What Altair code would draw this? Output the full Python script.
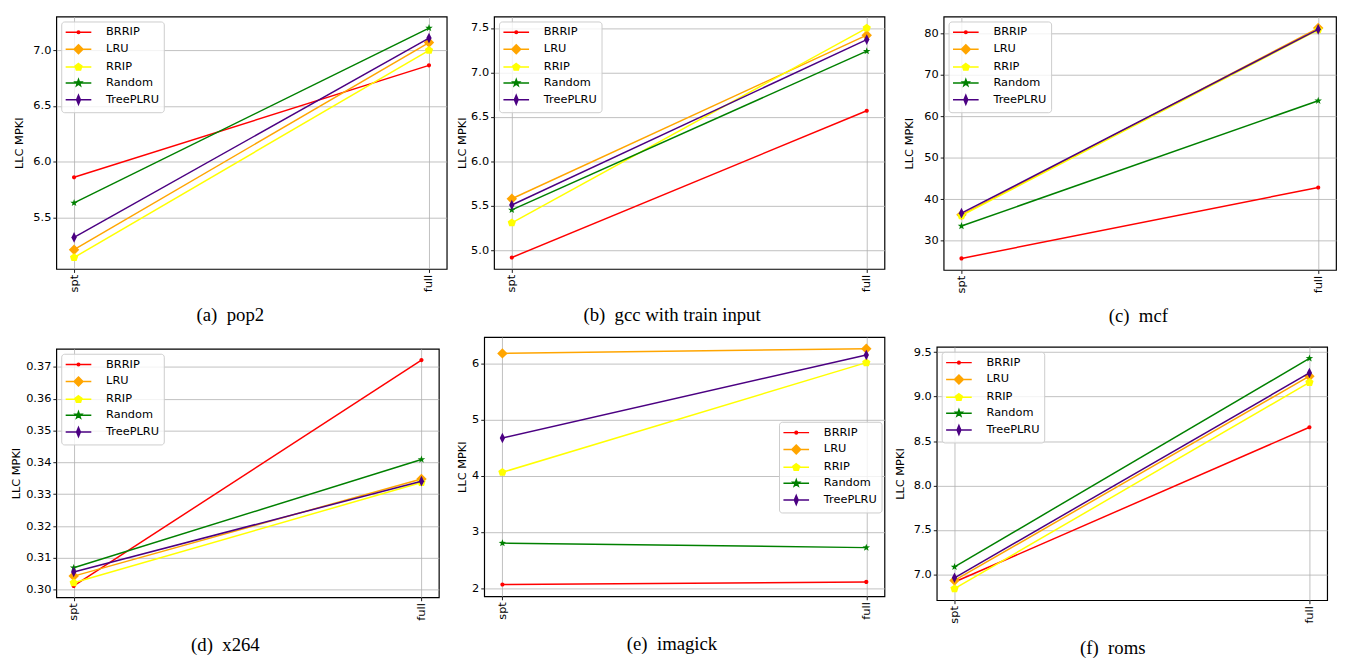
import math
import altair as alt
import pandas as pd

# ---------------- data ----------------
policies = ["BRRIP", "LRU", "RRIP", "Random", "TreePLRU"]
stages = ["spt", "full"]

pop2_spt = [5.86, 5.21, 5.14, 5.63, 5.32]
pop2_full = [6.865, 7.07, 7.00, 7.20, 7.11]
gcc_spt = [4.92, 5.58, 5.31, 5.455, 5.51]
gcc_full = [6.57, 7.42, 7.50, 7.24, 7.37]
mcf_spt = [25.7, 36.2, 36.0, 33.5, 36.6]
mcf_full = [42.8, 81.2, 80.8, 63.7, 80.9]
x264_spt = [0.3012, 0.3043, 0.3022, 0.3069, 0.3056]
x264_full = [0.3721, 0.3348, 0.3337, 0.3409, 0.3341]
imagick_spt = [2.064, 6.175, 4.06, 2.80, 4.67]
imagick_full = [2.11, 6.257, 6.01, 2.72, 6.146]
roms_spt = [6.915, 6.933, 6.84, 7.085, 6.963]
roms_full = [8.655, 9.23, 9.16, 9.43, 9.266]

captions = ["(a)\u2002pop2", "(b)\u2002gcc with train input", "(c)\u2002mcf",
            "(d)\u2002x264", "(e)\u2002imagick", "(f)\u2002roms"]
ticks_a = [5.5, 6.0, 6.5, 7.0]
ticks_b = [5.0, 5.5, 6.0, 6.5, 7.0, 7.5]
ticks_c = [30, 40, 50, 60, 70, 80]
ticks_d = [0.30, 0.31, 0.32, 0.33, 0.34, 0.35, 0.36, 0.37]
ticks_e = [2, 3, 4, 5, 6]
ticks_f = [7.0, 7.5, 8.0, 8.5, 9.0, 9.5]

# ---------------- style ----------------
colors = ["#ff0000", "#ffa500", "#ffff00", "#008000", "#4b0082"]


def fmtp(x, y):
    return f"{x:.3f},{y:.3f}"


def poly(pts):
    return "M" + "L".join(fmtp(x, y) for x, y in pts) + "Z"


def regular(n, r, start=-90.0):
    return [(r * math.cos(math.radians(start + 360.0 * i / n)),
             r * math.sin(math.radians(start + 360.0 * i / n))) for i in range(n)]


def star(r_out, r_in):
    pts = []
    for i in range(10):
        r = r_out if i % 2 == 0 else r_in
        a = math.radians(-90 + 36 * i)
        pts.append((r * math.cos(a), r * math.sin(a)))
    return pts


def dot(r):
    return f"M{-r:.3f},0A{r:.3f},{r:.3f},0,1,1,{r:.3f},0A{r:.3f},{r:.3f},0,1,1,{-r:.3f},0Z"


def marker_set(px):
    """marker outlines; px = pixels per path unit, sizes given in pixels."""
    def s(v):
        return v / px
    return [
        dot(s(2.1)),
        poly([(0, -s(5.3)), (s(5.3), 0), (0, s(5.3)), (-s(5.3), 0)]),
        poly(regular(5, s(4.4))),
        poly(star(s(4.0), s(4.0) * 0.4)),
        poly([(0, -s(5.4)), (s(2.7), 0), (0, s(5.4)), (-s(2.7), 0)]),
    ]


def legend_set(px):
    def s(v):
        return v / px
    base = [
        dot(s(1.3)),
        poly([(0, -s(4.5)), (s(4.5), 0), (0, s(4.5)), (-s(4.5), 0)]),
        poly(regular(5, s(3.6))),
        poly(star(s(3.4), s(3.4) * 0.4)),
        poly([(0, -s(4.6)), (s(1.9), 0), (0, s(4.6)), (-s(1.9), 0)]),
    ]
    return [p + f"M{-s(13):.3f},0L{s(13):.3f},0" for p in base]


SYM = 625          # plot markers: 1 unit = 12.5 px
LSYM = 144         # legend symbols: 1 unit = 6 px
marker_paths = marker_set(12.5)
legend_paths = legend_set(6.0)


def panel(spt, full, caption, ticks, fmt, title_pad, cap_x, cap_y,
          spacer, width, height, legend_pos=None):
    df = pd.DataFrame({
        "policy": policies + policies,
        "stage": ["spt"] * len(policies) + ["full"] * len(policies),
        "value": list(spt) + list(full),
    })
    vals = list(spt) + list(full)
    lo, hi = min(vals), max(vals)
    m = 0.05 * (hi - lo)

    x = alt.X("stage:N", sort=stages,
              scale=alt.Scale(type="point", domain=stages, padding=0.05),
              axis=alt.Axis(title=caption, labelAngle=-90, grid=True,
                            titleX=cap_x, titleY=cap_y, titleBaseline="middle",
                            titleFont="Liberation Serif", titleFontSize=19,
                            titleFontWeight="normal"))
    y = alt.Y("value:Q",
              scale=alt.Scale(domain=[lo - m, hi + m], nice=False, zero=False),
              axis=alt.Axis(title="LLC MPKI", values=ticks, format=fmt,
                            titlePadding=title_pad))

    leg_kw = dict(title=None, symbolSize=LSYM, symbolStrokeWidth=1.5,
                  symbolOffset=6.5, labelOffset=21,
                  labelFontSize=11.5, labelFont="DejaVu Sans",
                  labelColor="black", padding=4, rowPadding=3.1,
                  fillColor="rgba(255,255,255,0.8)", strokeColor="#cccccc",
                  cornerRadius=3, symbolOpacity=1)
    if legend_pos is None:
        leg = alt.Legend(orient="top-left", offset=5, **leg_kw)
    else:
        leg = alt.Legend(orient="none", legendX=legend_pos[0],
                         legendY=legend_pos[1], **leg_kw)

    base = alt.Chart(df)
    layers = []
    for i, p in enumerate(policies):
        sub = base.transform_filter(alt.datum.policy == p)
        layers.append(sub.mark_line(strokeWidth=1.5, color=colors[i]).encode(x=x, y=y))
        layers.append(sub.mark_point(filled=True, size=SYM, opacity=1, strokeWidth=0,
                                     shape=marker_paths[i], color=colors[i]
                                     ).encode(x=x, y=y))
    layers.append(
        base.transform_filter("false").mark_point(
            filled=True, size=LSYM, strokeWidth=1.5, opacity=1).encode(
            x=x, y=y,
            fill=alt.Fill("policy:N", scale=alt.Scale(domain=policies, range=colors),
                          legend=leg),
            stroke=alt.Stroke("policy:N",
                              scale=alt.Scale(domain=policies, range=colors),
                              legend=leg),
            shape=alt.Shape("policy:N",
                            scale=alt.Scale(domain=policies, range=legend_paths),
                            legend=leg)))
    props = dict(width=width, height=height)
    if spacer > 0:
        props["title"] = alt.TitleParams(text=" ", fontSize=1,
                                         offset=spacer - 1, orient="top")
    return alt.layer(*layers).properties(**props)


pa = panel(pop2_spt, pop2_full, captions[0], ticks_a, ".1f", 9, 176, 46, 3, 396, 256)
pb = panel(gcc_spt, gcc_full, captions[1], ticks_b, ".1f", 3, 180, 46, 0, 396, 256)
pc = panel(mcf_spt, mcf_full, captions[2], ticks_c, "d", 9, 197, 46, 0, 398, 257)
pd_ = panel(x264_spt, x264_full, captions[3], ticks_d, ".2f", 4, 171, 48, 12, 388, 252)
pe = panel(imagick_spt, imagick_full, captions[4], ticks_e, "d", 4, 190, 48, 0, 406, 263,
           legend_pos=(299, 86))
pf = panel(roms_spt, roms_full, captions[5], ticks_f, ".1f", 8, 178, 48, 9, 396, 257)

res = dict(fill="independent", stroke="independent", shape="independent")

chart = alt.concat(pa, pb, pc, pd_, pe, pf, columns=3, align="none",
                   spacing={"row": 10, "column": 8}).resolve_scale(**res).properties(
    padding={"left": 2, "top": 0, "right": 2, "bottom": 2}
).configure_view(
    stroke="black", strokeWidth=1.2
).configure_axis(
    domain=False, grid=True, gridColor="#b0b0b0", gridWidth=0.8,
    tickColor="black", tickSize=3.5, tickWidth=0.9,
    labelFont="DejaVu Sans", labelFontSize=11.5, labelColor="black",
    labelPadding=2, titleFont="DejaVu Sans", titleFontSize=11.5,
    titleFontWeight="normal", titleColor="black"
)

chart.save("out.html", embed_options={"renderer": "svg", "actions": False})
